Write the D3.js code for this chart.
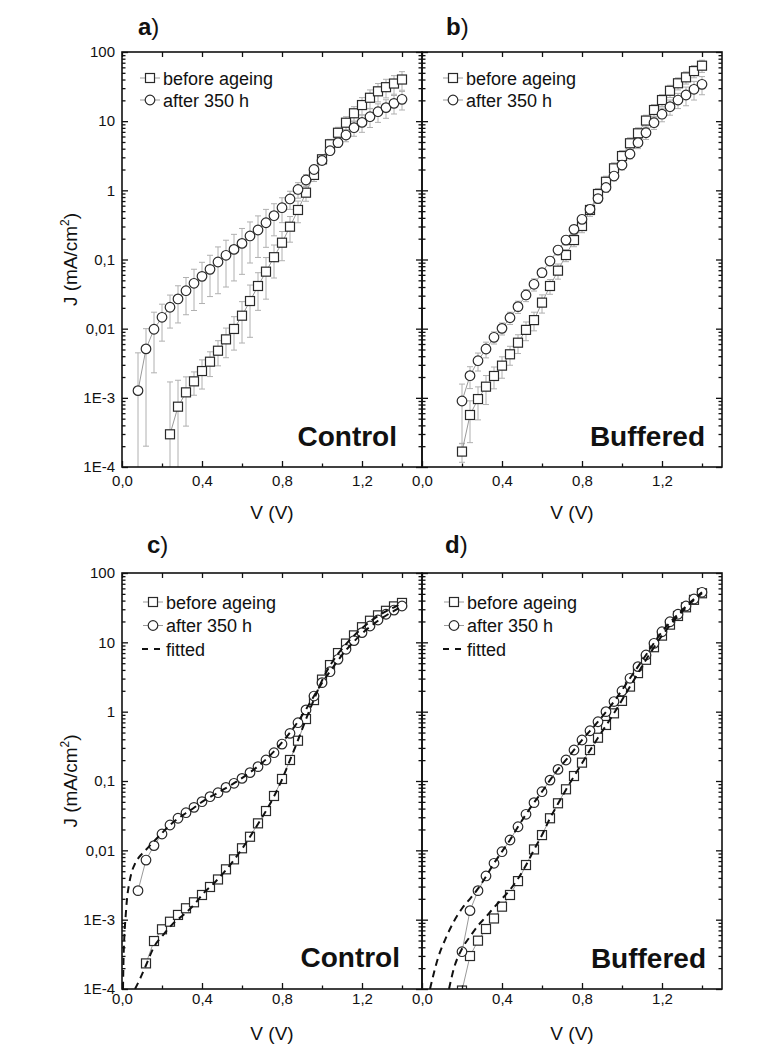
<!DOCTYPE html>
<html>
<head>
<meta charset="utf-8">
<script src="https://cdn.jsdelivr.net/npm/d3@7"></script>
<style>
  body { margin: 0; background: #fff; }
  text { font-family: "Liberation Sans", Arial, sans-serif; fill: #111; }
</style>
</head>
<body>
<svg id="chart" width="780" height="1046"></svg>
<script>
// ---- axis ticks ----
const xMajor = [0, 0.4, 0.8, 1.2];
const xMinor = [0.2, 0.6, 1.0, 1.4];
const yMajor = [1e-4, 1e-3, 1e-2, 0.1, 1, 10, 100];
const yLabels = ["1E-4", "1E-3", "0,01", "0,1", "1", "10", "100"];

// ---- panel a) Control, mean with error bars ----
const vA_before = [0.24,0.28,0.32,0.36,0.40,0.44,0.48,0.52,0.56,0.60,0.64,0.68,0.72,0.76,0.80,0.84,0.88,0.92,0.96,1.00,1.04,1.08,1.12,1.16,1.20,1.24,1.28,1.32,1.36,1.40];
const jA_before = [2.97e-4,7.45e-4,1.2e-3,1.73e-3,2.44e-3,3.33e-3,4.8e-3,7.0e-3,9.9e-3,0.0154,0.0251,0.0414,0.0667,0.108,0.175,0.298,0.52,0.925,1.67,2.81,4.63,6.8,9.5,13.0,17.1,21.8,27,31,35,40];
const eA_before = [1.4e-3,1.05e-3,8.1e-4,6.4e-4,1.1e-3,1.3e-3,1.9e-3,3.2e-3,5.0e-3,9.2e-3,0.0176,0.023,0.04,0.054,0.079,0.12,0.18,0.23,0.33,0.42,0.83,1.36,2.1,3.2,4.8,6.5,8,9.3,10.5,12];
const vA_after = [0.08,0.12,0.16,0.20,0.24,0.28,0.32,0.36,0.40,0.44,0.48,0.52,0.56,0.60,0.64,0.68,0.72,0.76,0.80,0.84,0.88,0.92,0.96,1.00,1.04,1.08,1.12,1.16,1.20,1.24,1.28,1.32,1.36,1.40];
const jA_after = [1.27e-3,5.1e-3,9.8e-3,0.0146,0.0204,0.0269,0.0354,0.0453,0.0571,0.0721,0.092,0.115,0.140,0.171,0.219,0.267,0.340,0.430,0.561,0.75,1.03,1.41,2.0,2.7,3.74,4.89,6.3,8.05,9.6,11.6,13.7,15.7,18.1,20.7];
const eA_after = [3.2e-3,4.9e-3,7.5e-3,8e-3,0.0102,0.0148,0.0195,0.027,0.034,0.043,0.06,0.075,0.091,0.11,0.13,0.16,0.19,0.21,0.22,0.22,0.26,0.28,0.3,0.32,0.45,0.73,1.26,2.0,2.7,3.5,4.1,4.7,5.4,6.2];

// ---- panel b) Buffered, mean with error bars ----
const vB = [0.20,0.24,0.28,0.32,0.36,0.40,0.44,0.48,0.52,0.56,0.60,0.64,0.68,0.72,0.76,0.80,0.84,0.88,0.92,0.96,1.00,1.04,1.08,1.12,1.16,1.20,1.24,1.28,1.32,1.36,1.40];
const jB_before = [1.67e-4,5.65e-4,9.6e-4,1.45e-3,2.07e-3,2.92e-3,4.26e-3,6.27e-3,9.6e-3,0.0133,0.0238,0.0414,0.069,0.116,0.191,0.305,0.52,0.885,1.33,2.08,3.13,4.79,6.68,10.2,14.5,20.2,27.5,35.3,43,53,63.4];
const eB_before = [5e-5,3.4e-4,4.8e-4,6.5e-4,7.2e-4,1.0e-3,1.3e-3,1.9e-3,2.9e-3,4e-3,7e-3,0.01,0.017,0.023,0.038,0.061,0.1,0.18,0.27,0.42,0.63,0.96,1.34,2,2.9,4,5.5,7,8.6,10.6,12.7];
const jB_after = [9.0e-4,2.09e-3,3.44e-3,5.08e-3,7.5e-3,0.0101,0.0144,0.0208,0.0307,0.0438,0.0645,0.095,0.137,0.191,0.273,0.381,0.532,0.76,1.1,1.61,2.32,3.35,4.89,6.8,9.5,12.6,16.2,20.2,23.9,28.9,34.1];
const eB_after = [6.8e-4,7.3e-4,1.0e-3,1.3e-3,1.5e-3,2e-3,2.9e-3,4.2e-3,6.1e-3,8.8e-3,9.7e-3,0.014,0.021,0.029,0.041,0.057,0.08,0.11,0.17,0.24,0.35,0.5,0.88,1.36,1.9,2.8,4.0,5.0,7.2,8.7,10];

// ---- panel c) Control, single device with fits ----
const vC_before = [0.12,0.16,0.20,0.24,0.28,0.32,0.36,0.40,0.44,0.48,0.52,0.56,0.60,0.64,0.68,0.72,0.76,0.80,0.84,0.88,0.92,0.96,1.00,1.04,1.08,1.12,1.16,1.20,1.24,1.28,1.32,1.36,1.40];
const jC_before = [2.34e-4,4.92e-4,7.26e-4,9.34e-4,1.17e-3,1.46e-3,1.78e-3,2.27e-3,2.96e-3,3.8e-3,5.32e-3,7.41e-3,0.0107,0.0157,0.0245,0.0369,0.0608,0.107,0.201,0.381,0.783,1.47,2.9,4.7,7.0,9.6,12.6,16.5,20.5,24.5,28.5,33,37];
const vC_after = [0.08,0.12,0.16,0.20,0.24,0.28,0.32,0.36,0.40,0.44,0.48,0.52,0.56,0.60,0.64,0.68,0.72,0.76,0.80,0.84,0.88,0.92,0.96,1.00,1.04,1.08,1.12,1.16,1.20,1.24,1.28,1.32,1.36,1.40];
const jC_after = [2.62e-3,7.24e-3,0.0117,0.0172,0.0232,0.029,0.0349,0.0417,0.0503,0.0594,0.0678,0.081,0.0927,0.109,0.132,0.161,0.201,0.256,0.341,0.487,0.693,1.06,1.68,2.62,3.77,5.69,7.94,10.6,13.8,17.2,21,25.4,29.2,33.4];
const vC_fitBefore = [0.065,0.09,0.12,0.157,0.207,0.257,0.315,0.365,0.407,0.457,0.52,0.60,0.68,0.76,0.80,0.84,0.88,0.92,0.96,1.00,1.04,1.08,1.12,1.20,1.28,1.36,1.40];
const jC_fitBefore = [1e-4,1.4e-4,2.2e-4,3.9e-4,6.1e-4,8.9e-4,1.22e-3,1.7e-3,2.4e-3,3.3e-3,5.2e-3,0.0105,0.024,0.06,0.105,0.2,0.39,0.78,1.5,2.8,4.6,6.8,9.4,16,24,32,36.5];
const vC_fitAfter = [0.005,0.008,0.012,0.018,0.025,0.035,0.05,0.065,0.08,0.10,0.12,0.16,0.20,0.24,0.28,0.32,0.36,0.40,0.48,0.56,0.64,0.72,0.80,0.84,0.88,0.92,0.96,1.00,1.04,1.08,1.12,1.16,1.20,1.28,1.36,1.40];
const jC_fitAfter = [1e-4,3e-4,6e-4,1.1e-3,2e-3,3.2e-3,5e-3,6.4e-3,7.6e-3,8.9e-3,0.0102,0.0135,0.0178,0.0232,0.0288,0.0345,0.0412,0.05,0.068,0.093,0.133,0.205,0.36,0.5,0.72,1.08,1.68,2.6,3.8,5.5,7.7,10.3,13.4,20.5,28.5,33];

// ---- panel d) Buffered, single device with fits ----
const vD = [0.20,0.24,0.28,0.32,0.36,0.40,0.44,0.48,0.52,0.56,0.60,0.64,0.68,0.72,0.76,0.80,0.84,0.88,0.92,0.96,1.00,1.04,1.08,1.12,1.16,1.20,1.24,1.28,1.32,1.36,1.40];
const jD_before = [9.5e-5,2.99e-4,4.98e-4,7.33e-4,1.04e-3,1.54e-3,2.27e-3,3.6e-3,6.14e-3,0.0103,0.0166,0.029,0.0477,0.0759,0.118,0.184,0.28,0.421,0.643,0.946,1.43,2.3,3.6,5.6,8.5,12.5,18,24,32,41,51];
const jD_after = [3.45e-4,1.35e-3,2.62e-3,4.27e-3,6.5e-3,9.55e-3,0.0141,0.0219,0.0331,0.0487,0.0701,0.103,0.147,0.201,0.28,0.39,0.531,0.716,1.0,1.4,1.99,3.03,4.46,6.57,9.68,14.2,19.8,25.4,33.4,42.2,52.7];
const vD_fitBefore = [0.135,0.16,0.20,0.24,0.28,0.32,0.36,0.40,0.44,0.48,0.52,0.56,0.60,0.64,0.68,0.72,0.80,0.88,0.96,1.04,1.12,1.20,1.28,1.36,1.40];
const jD_fitBefore = [1e-4,2.0e-4,3.8e-4,5.7e-4,8.2e-4,1.1e-3,1.5e-3,2.0e-3,2.7e-3,3.9e-3,6.1e-3,0.0102,0.0166,0.029,0.047,0.075,0.18,0.42,0.95,2.3,5.6,12.5,24,41,51];
const vD_fitAfter = [0.04,0.08,0.12,0.16,0.20,0.24,0.28,0.32,0.36,0.40,0.44,0.48,0.52,0.56,0.60,0.64,0.68,0.72,0.80,0.88,0.96,1.04,1.12,1.20,1.28,1.36,1.40];
const jD_fitAfter = [1e-4,2.8e-4,5.5e-4,9.5e-4,1.45e-3,2.0e-3,2.8e-3,4.2e-3,6.5e-3,9.6e-3,0.0141,0.0219,0.0331,0.0487,0.0701,0.103,0.147,0.201,0.39,0.716,1.4,3.03,6.57,14.2,25.4,42.2,52.7];

const svg = d3.select("#chart");
const markColor = "#2a2a2a";
const lineGray = "#999";
const errGray = "#b0b0b0";

const panels = [
  {name: "a", left: 122, top: 52, bottom: 467, yLabels: true, tag: "a", tagX: 138, tagY: 35,
   word: "Control", wordX: 397, wordY: 446, labelPad: 8, legX: 150, legY: 78, fitLegend: false,
   sq: [vA_before, jA_before, eA_before], ci: [vA_after, jA_after, eA_after]},
  {name: "b", left: 422, top: 52, bottom: 467, yLabels: false, tag: "b", tagX: 446, tagY: 35,
   word: "Buffered", wordX: 705, wordY: 446, labelPad: 8, legX: 453, legY: 78, fitLegend: false,
   sq: [vB, jB_before, eB_before], ci: [vB, jB_after, eB_after]},
  {name: "c", left: 122, top: 573, bottom: 989, yLabels: true, tag: "c", tagX: 147, tagY: 553,
   word: "Control", wordX: 400, wordY: 967, labelPad: 4, legX: 153, legY: 602, fitLegend: true,
   sq: [vC_before, jC_before], ci: [vC_after, jC_after],
   fits: [[vC_fitBefore, jC_fitBefore], [vC_fitAfter, jC_fitAfter]]},
  {name: "d", left: 422, top: 573, bottom: 989, yLabels: false, tag: "d", tagX: 445, tagY: 553,
   word: "Buffered", wordX: 706, wordY: 968, labelPad: 4, legX: 454, legY: 602, fitLegend: true,
   sq: [vD, jD_before], ci: [vD, jD_after],
   fits: [[vD_fitBefore, jD_fitBefore], [vD_fitAfter, jD_fitAfter]]}
];

function squareAt(sel, cx, cy){
  sel.append("rect")
    .attr("x", cx - 4.5).attr("y", cy - 4.5)
    .attr("width", 9).attr("height", 9)
    .attr("fill", "#fff").attr("stroke", markColor).attr("stroke-width", 1.2);
}
function circleAt(sel, cx, cy){
  sel.append("circle")
    .attr("cx", cx).attr("cy", cy).attr("r", 4.8)
    .attr("fill", "#fff").attr("stroke", markColor).attr("stroke-width", 1.2);
}

function drawPanel(p){
  const W = 300;
  const x = d3.scaleLinear().domain([0, 1.5]).range([p.left, p.left + W]);
  const y = d3.scaleLog().domain([1e-4, 100]).range([p.bottom, p.top]);
  const g = svg.append("g");

  svg.append("clipPath").attr("id", "clip-" + p.name)
    .append("rect").attr("x", p.left).attr("y", p.top)
    .attr("width", W).attr("height", p.bottom - p.top);
  const plot = g.append("g").attr("clip-path", `url(#clip-${p.name})`);

  const toPts = (vs, js) => vs.map((v, i) => ({v: v, j: js[i]}));
  const line = d3.line().x(d => x(d.v)).y(d => y(d.j));

  // error bars
  [p.sq, p.ci].forEach(s => {
    if (!s[2]) return;
    s[0].forEach((v, i) => {
      const j = s[1][i], e = s[2][i];
      const hi = j + e, lo = j - e;
      const yHi = y(hi);
      const yLo = lo > 1e-4 ? y(lo) : p.bottom + 5;
      const cx = x(v);
      plot.append("line").attr("x1", cx).attr("x2", cx).attr("y1", yHi).attr("y2", yLo)
        .attr("stroke", errGray).attr("stroke-width", 1);
      plot.append("line").attr("x1", cx - 3).attr("x2", cx + 3).attr("y1", yHi).attr("y2", yHi)
        .attr("stroke", errGray).attr("stroke-width", 1);
      if (lo > 1e-4) {
        plot.append("line").attr("x1", cx - 3).attr("x2", cx + 3).attr("y1", yLo).attr("y2", yLo)
          .attr("stroke", errGray).attr("stroke-width", 1);
      }
    });
  });

  // connecting lines
  [p.sq, p.ci].forEach(s => {
    plot.append("path").datum(toPts(s[0], s[1]))
      .attr("fill", "none").attr("stroke", lineGray).attr("stroke-width", 1)
      .attr("d", line);
  });

  // markers
  const mk = plot.append("g");
  p.sq[0].forEach((v, i) => squareAt(mk, x(v), y(p.sq[1][i])));
  p.ci[0].forEach((v, i) => circleAt(mk, x(v), y(p.ci[1][i])));

  // fitted curves
  if (p.fits) {
    const fitLine = d3.line().x(d => x(d.v)).y(d => y(d.j)).curve(d3.curveMonotoneX);
    p.fits.forEach(f => {
      plot.append("path").datum(toPts(f[0], f[1]))
        .attr("fill", "none").attr("stroke", "#111").attr("stroke-width", 2)
        .attr("stroke-dasharray", "7,5")
        .attr("d", fitLine);
    });
  }

  // axes (ticks pointing inward)
  const fmtX = d => d3.format(".1f")(d).replace(".", ",");
  g.append("g").attr("transform", `translate(0,${p.bottom})`)
    .call(d3.axisBottom(x).tickValues(xMajor).tickSize(-6).tickPadding(p.labelPad).tickFormat(fmtX));
  g.append("g").attr("transform", `translate(0,${p.bottom})`)
    .call(d3.axisBottom(x).tickValues(xMinor).tickSize(-3.5).tickFormat(""));
  g.append("g").attr("transform", `translate(0,${p.top})`)
    .call(d3.axisTop(x).tickValues(xMajor.concat(xMinor)).tickSize(-5).tickFormat(""));

  const yMinor = [];
  yMajor.slice(0, -1).forEach(d => { for (let k = 2; k <= 9; k++) yMinor.push(d * k); });
  const fmtY = d => yLabels[yMajor.indexOf(d)];
  g.append("g").attr("transform", `translate(${p.left},0)`)
    .call(d3.axisLeft(y).tickValues(yMajor).tickSize(-6).tickPadding(7)
      .tickFormat(p.yLabels ? fmtY : () => ""));
  g.append("g").attr("transform", `translate(${p.left},0)`)
    .call(d3.axisLeft(y).tickValues(yMinor).tickSize(-3.5).tickFormat(""));
  g.append("g").attr("transform", `translate(${p.left + W},0)`)
    .call(d3.axisRight(y).tickValues(yMajor).tickSize(-6).tickFormat(""));
  g.append("g").attr("transform", `translate(${p.left + W},0)`)
    .call(d3.axisRight(y).tickValues(yMinor).tickSize(-3.5).tickFormat(""));

  g.selectAll(".domain").remove();
  g.selectAll(".tick line").attr("stroke", "#111").attr("stroke-width", 1.3);
  g.selectAll(".tick text").attr("font-size", 15).attr("fill", "#222")
    .style("font-family", "'Liberation Sans', Arial, sans-serif");

  g.append("rect").attr("x", p.left).attr("y", p.top)
    .attr("width", W).attr("height", p.bottom - p.top)
    .attr("fill", "none").attr("stroke", "#111").attr("stroke-width", 1.6);

  // axis titles
  g.append("text").attr("x", p.left + W / 2).attr("y", p.bottom + (p.labelPad > 5 ? 52 : 51))
    .attr("text-anchor", "middle").attr("font-size", 19).text("V (V)");
  if (p.yLabels) {
    const yt = g.append("text")
      .attr("transform", `translate(77,${(p.top + p.bottom) / 2}) rotate(-90)`)
      .attr("text-anchor", "middle").attr("font-size", 19);
    yt.append("tspan").text("J (mA/cm");
    yt.append("tspan").attr("font-size", 12).attr("dy", -8).text("2");
    yt.append("tspan").attr("dy", 8).text(")");
  }

  // panel tag
  const tg = g.append("text").attr("x", p.tagX).attr("y", p.tagY).attr("font-size", 24);
  tg.append("tspan").attr("font-weight", "bold").text(p.tag);
  tg.append("tspan").text(")");

  // big word
  g.append("text").attr("x", p.wordX).attr("y", p.wordY).attr("text-anchor", "end")
    .attr("font-size", 28).attr("font-weight", "bold").text(p.word);

  // legend
  const lg = g.append("g");
  const rows = [
    {label: "before ageing", kind: "sq"},
    {label: "after 350 h", kind: "ci"}
  ];
  if (p.fitLegend) rows.push({label: "fitted", kind: "fit"});
  const step = p.fitLegend ? 23.5 : 22;
  rows.forEach((r, i) => {
    const cy = p.legY + i * step;
    if (r.kind === "fit") {
      lg.append("line").attr("x1", p.legX - 11).attr("x2", p.legX + 9)
        .attr("y1", cy).attr("y2", cy).attr("stroke", "#111").attr("stroke-width", 2)
        .attr("stroke-dasharray", "6,6");
    } else {
      lg.append("line").attr("x1", p.legX - 10).attr("x2", p.legX + 10)
        .attr("y1", cy).attr("y2", cy).attr("stroke", lineGray).attr("stroke-width", 1);
      if (r.kind === "sq") squareAt(lg, p.legX, cy); else circleAt(lg, p.legX, cy);
    }
    lg.append("text").attr("x", p.legX + 13).attr("y", cy + 6.5)
      .attr("font-size", 18).text(r.label);
  });
}

panels.forEach(drawPanel);
</script>
</body>
</html>
